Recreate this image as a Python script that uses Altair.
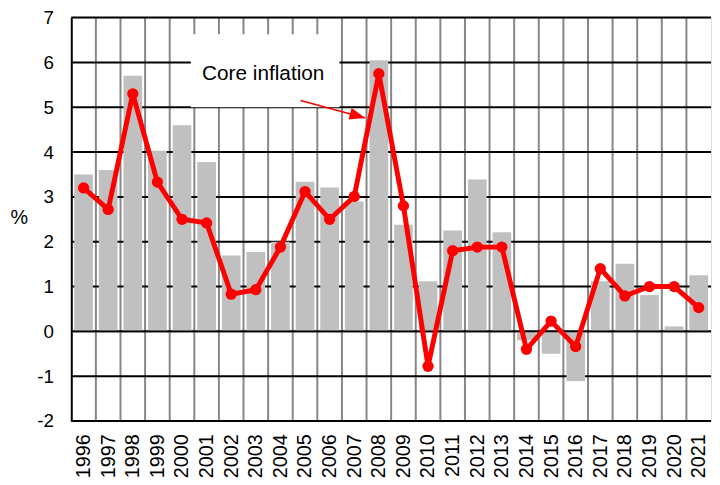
import altair as alt
import pandas as pd

# ---- data ----
years = list(range(1996, 2022))
headline = [3.5, 3.6, 5.7, 4.03, 4.6, 3.78, 1.69, 1.77, 2.0, 3.34, 3.21, 2.9, 6.05,
            2.38, 1.12, 2.25, 3.39, 2.21, -0.2, -0.5, -1.11, 1.12, 1.51, 0.81, 0.11, 1.25]
core = [3.2, 2.72, 5.3, 3.33, 2.5, 2.42, 0.83, 0.93, 1.88, 3.12, 2.5, 3.01, 5.75,
        2.8, -0.78, 1.8, 1.88, 1.88, -0.4, 0.23, -0.34, 1.4, 0.79, 1.0, 1.0, 0.53]
y_ticks = [-2, -1, 0, 1, 2, 3, 4, 5, 6, 7]
zero_line = [0]
boundaries = [y + 0.5 for y in years[:-1]]

label_text = "Core inflation"
label_pos = {"x": 2003.3, "y": 5.6}
box = {"x": 2000.36, "x2": 2006.4, "y": 5.0, "y2": 6.63}
arrow = {"x": 2004.82, "y": 5.15, "x2": 2007.45, "y2": 4.76}

FONT = "Liberation Sans"
W, H = 647, 408
BAR_HALF = 0.38

df = pd.DataFrame({"year": years, "headline": headline, "core": core})

xscale = alt.Scale(domain=[1995.5, 2021.5], nice=False, zero=False)
yscale = alt.Scale(domain=[-2, 7], nice=False, zero=False)

xaxis = alt.Axis(values=years, format="d", labelAngle=270, labelFontSize=20,
                 labelPadding=13, ticks=False, domain=False, grid=False, title=None,
                 labelColor="black", labelFlush=False, labelOverlap=False,
                 labelFont=FONT)
yaxis = alt.Axis(values=y_ticks, labelExpr="'' + datum.value",
                 labelFontSize=19, labelPadding=18, ticks=False,
                 domain=True, domainColor="black", domainWidth=2, grid=False,
                 labelColor="black", labelFont=FONT, zindex=1,
                 title="%", titleAngle=0, titleX=-53, titleY=202, titleFontSize=20,
                 titleFontWeight="normal", titleAlign="center", titleBaseline="middle",
                 titleFont=FONT, titleColor="black")


def X(field):
    return alt.X(field, scale=xscale, axis=xaxis)


def Y(field):
    return alt.Y(field, scale=yscale, axis=yaxis)


vgrid = alt.Chart(pd.DataFrame({"b": boundaries})).mark_rule(
    color="#868686", strokeWidth=2
).encode(x=X("b:Q"))

hgrid = alt.Chart(pd.DataFrame({"t": y_ticks})).mark_rule(
    color="black", strokeWidth=2
).encode(y=Y("t:Q"))

bars = alt.Chart(df).transform_calculate(
    x0=f"datum.year - {BAR_HALF}", x1=f"datum.year + {BAR_HALF}"
).mark_bar(color="#c0c0c0").encode(
    x=X("x0:Q"),
    x2="x1:Q",
    y=Y("headline:Q"),
    y2=alt.datum(0),
)

zline = alt.Chart(pd.DataFrame({"z": zero_line})).mark_rule(
    color="black", strokeWidth=2
).encode(y=Y("z:Q"))

line = alt.Chart(df).mark_line(color="#ff0000", strokeWidth=5).encode(
    x=X("year:Q"), y=Y("core:Q"),
)
pts = alt.Chart(df).mark_circle(color="#ff0000", size=130, opacity=1).encode(
    x=X("year:Q"), y=Y("core:Q"),
)

box_layer = alt.Chart(pd.DataFrame([box])).mark_rect(color="white").encode(
    x=X("x:Q"), x2="x2:Q", y=Y("y:Q"), y2="y2:Q",
)
text_layer = alt.Chart(pd.DataFrame([label_pos])).mark_text(
    text=label_text, fontSize=21, font=FONT, align="center",
    baseline="alphabetic", color="black"
).encode(x=X("x:Q"), y=Y("y:Q"))

arrow_line = alt.Chart(pd.DataFrame([arrow])).mark_rule(
    color="#ff0000", strokeWidth=1.6
).encode(x=X("x:Q"), x2="x2:Q", y=Y("y:Q"), y2="y2:Q")

arrow_head = alt.Chart(pd.DataFrame([arrow])).mark_point(
    shape="M0,0L-2,-0.75L-2,0.75Z", filled=True, color="#ff0000",
    size=256, angle=15.5, opacity=1, strokeWidth=0
).encode(x=X("x2:Q"), y=Y("y2:Q"))

chart = alt.layer(
    vgrid, hgrid, bars, zline, line, pts, box_layer, text_layer, arrow_line, arrow_head
).properties(
    width=W, height=H,
    autosize=alt.AutoSizeParams(type="none"),
    padding={"left": 64, "top": 7, "right": 1, "bottom": 62},
).configure_view(stroke=None).configure(font=FONT)

chart.save("out.html", embed_options={"renderer": "svg", "actions": False})
